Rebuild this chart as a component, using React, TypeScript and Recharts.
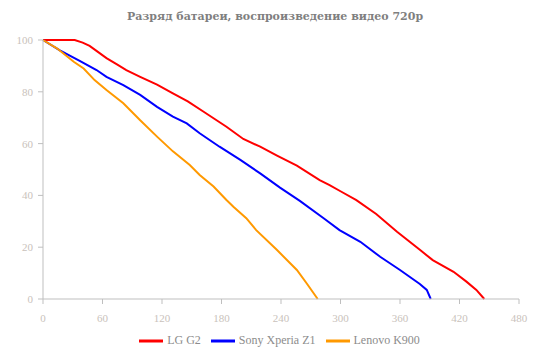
import { Legend, Line, LineChart, XAxis, YAxis } from "recharts";

// minutes / battery %
const lgG2 = [
  [0, 100], [32, 100], [40, 99], [47, 97.7], [55, 95.5], [64, 93], [75, 90.5], [84, 88.4],
  [98, 85.8], [115, 82.8], [131, 79.4], [146, 76.3], [162, 72.3], [185, 66.5], [202, 61.8],
  [219, 58.8], [236, 55.4], [256, 51.5], [279, 45.9], [289, 44], [300, 41.6], [316, 38.2],
  [336, 32.8], [357, 26], [380, 19], [393, 15], [414, 10.5], [427, 6.7], [437, 3.5], [445, 0],
].map(([t, v]) => ({ t, v }));

const sonyZ1 = [
  [0, 100], [17, 96], [37, 91.9], [54, 88.4], [64, 85.8], [81, 82.6], [98, 78.8], [115, 74.2],
  [131, 70.4], [145, 67.8], [158, 64], [178, 58.8], [199, 53.7], [219, 48.5], [239, 43],
  [259, 37.9], [283, 31.2], [299, 26.6], [320, 22.1], [340, 16.3], [360, 11.2], [380, 5.8],
  [387, 3.5], [391, 0],
].map(([t, v]) => ({ t, v }));

const lenovoK900 = [
  [0, 100], [14, 96.8], [31, 91.6], [41, 89], [52, 84.5], [64, 80.7], [81, 75.6], [98, 69],
  [115, 62.7], [131, 57], [148, 51.7], [158, 47.9], [172, 43.4], [185, 38.2], [192, 35.6],
  [205, 31.2], [215, 26.6], [236, 18.9], [256, 11.2], [266, 6], [277, 0],
].map(([t, v]) => ({ t, v }));

const seriesOrder = ["LG G2", "Sony Xperia Z1", "Lenovo K900"];
const xTicks = [0, 60, 120, 180, 240, 300, 360, 420, 480];
const yTicks = [0, 20, 40, 60, 80, 100];

const font = "'Liberation Serif', serif";
const tickStyle = { fill: "#c9c2bb", fontSize: 11, fontFamily: font };

export default function App() {
  return (
    <div style={{ position: "absolute", left: 0, top: 0, width: 550, height: 355, background: "#fff" }}>
      <div
        style={{
          position: "absolute", top: 10, width: 550, textAlign: "center",
          fontFamily: "'DejaVu Serif', serif", fontWeight: "bold", fontSize: 11, color: "#7f7f7f",
        }}
      >
        Разряд батареи, воспроизведение видео 720p
      </div>
      <LineChart width={550} height={355} margin={{ top: 40, right: 31, left: 8, bottom: 4 }}>
        <XAxis
          type="number"
          dataKey="t"
          domain={[0, 480]}
          ticks={xTicks}
          stroke="#bfbfbf"
          tickSize={5}
          tickMargin={10}
          tick={tickStyle}
          height={30}
          allowDuplicatedCategory={false}
        />
        <YAxis
          type="number"
          domain={[0, 100]}
          ticks={yTicks}
          stroke="#bfbfbf"
          tickSize={5}
          tickMargin={5}
          tick={tickStyle}
          width={35}
        />
        <Legend
          verticalAlign="bottom"
          iconType="plainline"
          iconSize={24}
          height={22}
          itemSorter={(item: { value: string }) => seriesOrder.indexOf(item.value)}
          wrapperStyle={{ fontFamily: font, fontSize: 12, left: 29 }}
          formatter={(value: string) => <span style={{ color: "#8c8c8c" }}>{value}</span>}
        />
        <Line data={lgG2} dataKey="v" name="LG G2" stroke="#ff0000" strokeWidth={2} dot={false} isAnimationActive={false} />
        <Line data={sonyZ1} dataKey="v" name="Sony Xperia Z1" stroke="#0000ff" strokeWidth={2} dot={false} isAnimationActive={false} />
        <Line data={lenovoK900} dataKey="v" name="Lenovo K900" stroke="#ff9900" strokeWidth={2} dot={false} isAnimationActive={false} />
      </LineChart>
    </div>
  );
}
